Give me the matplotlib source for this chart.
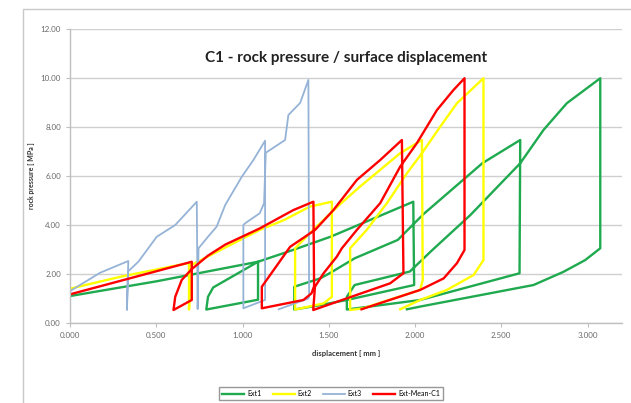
import matplotlib
matplotlib.use('Agg')
import matplotlib.pyplot as plt
from matplotlib.patches import Rectangle

# displacement [mm] / rock pressure [MPa]
ext1_x = [0, 0.5, 1.09, 1.09, 0.79, 0.80, 0.83, 1.09, 1.28, 1.51, 1.99, 1.995, 1.605, 1.45, 1.30,
          1.30, 1.45, 1.51, 1.65, 1.90, 2.05, 2.30, 2.39, 2.61, 2.606, 2.03, 1.605, 1.605, 1.65,
          1.97, 2.09, 2.32, 2.61, 2.745, 2.88, 3.074, 3.074, 2.987, 2.861, 2.687, 2.03, 1.953]
ext1_y = [1.1, 1.7, 2.5, 0.95, 0.55, 1.07, 1.45, 2.5, 2.95, 3.52, 4.95, 1.55, 0.94, 0.73, 0.55,
          1.48, 1.82, 2.05, 2.64, 3.39, 4.45, 5.97, 6.52, 7.47, 2.03, 0.94, 0.55, 1.07, 1.55,
          2.1, 2.91, 4.4, 6.52, 7.88, 8.97, 9.99, 3.05, 2.57, 2.09, 1.55, 0.67, 0.56]

ext2_x = [0, 0.3, 0.69, 0.69, 0.70, 0.85, 1.10, 1.24, 1.39, 1.518, 1.518, 1.47, 1.305, 1.305,
          1.41, 1.566, 1.68, 1.914, 2.04, 2.045, 2.03, 1.70, 1.624, 1.624, 1.72, 1.837, 1.953,
          2.04, 2.146, 2.243, 2.397, 2.397, 2.34, 2.185, 2.03, 1.914]
ext2_y = [1.4, 1.9, 2.45, 0.55, 2.35, 2.9, 3.8, 4.2, 4.75, 4.95, 1.07, 0.8, 0.55, 3.05,
          3.8, 4.85, 5.56, 6.93, 7.47, 1.76, 1.35, 0.6, 0.53, 3.05, 3.8, 4.89, 6.11,
          6.93, 8.01, 8.97, 9.99, 2.57, 1.96, 1.35, 0.94, 0.56]

ext3_x = [0, 0.174, 0.338, 0.33, 0.336, 0.396, 0.503, 0.61, 0.735, 0.74, 0.745, 0.80, 0.85,
          0.90, 0.996, 1.063, 1.131, 1.131, 1.005, 1.005, 1.015, 1.10, 1.125, 1.135, 1.247,
          1.266, 1.334, 1.382, 1.386, 1.382, 1.21]
ext3_y = [1.3, 2.05, 2.53, 0.53, 2.1, 2.5, 3.52, 4.0, 4.95, 0.57, 3.05, 3.52, 3.93,
          4.82, 5.97, 6.65, 7.44, 0.94, 0.6, 4.0, 4.07, 4.48, 4.89, 6.95, 7.47,
          8.49, 8.98, 9.92, 1.07, 1.0, 0.56]

mean_x = [0, 0.706, 0.706, 0.6, 0.61, 0.648, 0.706, 0.80, 0.90, 1.10, 1.295, 1.411, 1.415,
          1.40, 1.353, 1.112, 1.112, 1.276, 1.421, 1.527, 1.663, 1.798, 1.924, 1.933, 1.856,
          1.41, 1.42, 1.47, 1.547, 1.576, 1.663, 1.798, 1.914, 2.01, 2.127, 2.223, 2.287,
          2.287, 2.243, 2.166, 2.03, 1.69]
mean_y = [1.17, 2.5, 0.94, 0.53, 1.07, 1.76, 2.2, 2.75, 3.2, 3.86, 4.61, 4.95, 1.5,
          1.21, 0.94, 0.6, 1.48, 3.11, 3.8, 4.61, 5.84, 6.65, 7.47, 2.03, 1.62,
          0.53, 1.48, 2.03, 2.71, 3.05, 3.8, 4.89, 6.38, 7.33, 8.69, 9.51, 9.99,
          2.98, 2.44, 1.82, 1.35, 0.56]

x_ticks = [0, 0.5, 1.0, 1.5, 2.0, 2.5, 3.0]
y_ticks = [0, 2, 4, 6, 8, 10, 12]

plt.rcParams['font.family'] = ['Lato', 'DejaVu Sans']

fig = plt.figure(figsize=(6.31, 4.03), dpi=100)
ax = fig.add_axes([70 / 631, 1 - 323 / 403, 552 / 631, 294 / 403])

ax.plot(ext1_x, ext1_y, color='#1FAA4F', lw=1.7, label='Ext1')
ax.plot(ext2_x, ext2_y, color='#FFFF00', lw=1.7, label='Ext2')
ax.plot(ext3_x, ext3_y, color='#95B3D7', lw=1.3, label='Ext3')
ax.plot(mean_x, mean_y, color='#FF0000', lw=1.7, label='Ext-Mean-C1')

ax.set_xlim(0, 3.2)
ax.set_ylim(0, 12)
ax.set_xticks(x_ticks)
ax.set_yticks(y_ticks)
ax.set_xticklabels(['%.3f' % v for v in x_ticks])
ax.set_yticklabels(['%.2f' % v for v in y_ticks])
ax.tick_params(labelsize=5.8, colors='#6A6A6A', length=3, width=0.8)
ax.tick_params(axis='both', color='#BFBFBF')
ax.grid(axis='y', color='#CFCFCF', lw=1)
ax.set_axisbelow(True)
for s in ['top', 'right']:
    ax.spines[s].set_visible(False)
for s in ['left', 'bottom']:
    ax.spines[s].set_color('#BFBFBF')
    ax.spines[s].set_linewidth(1)

ax.set_title('C1 - rock pressure / surface displacement', fontsize=11, fontweight='bold',
             color='#222222', y=0.86)
ax.set_xlabel('displacement [ mm ]', fontsize=5.5, fontweight='bold', color='#333333', labelpad=8)
ax.set_ylabel('rock pressure [ MPa ]', fontsize=5, fontweight='bold', color='#333333', labelpad=4)

fig.legend(loc='center', bbox_to_anchor=(331 / 631, 1 - 393.5 / 403), ncol=4, fontsize=5,
           frameon=True, fancybox=False, edgecolor='#7F7F7F', handlelength=3.2,
           columnspacing=1.6, handletextpad=0.4, borderpad=0.4)

fig.patches.append(Rectangle((23 / 631, -0.1), 1.0, 1.1 - 9 / 403, transform=fig.transFigure,
                             fill=False, edgecolor='#C8C8C8', lw=1))

fig.savefig('out.png', dpi=100)
